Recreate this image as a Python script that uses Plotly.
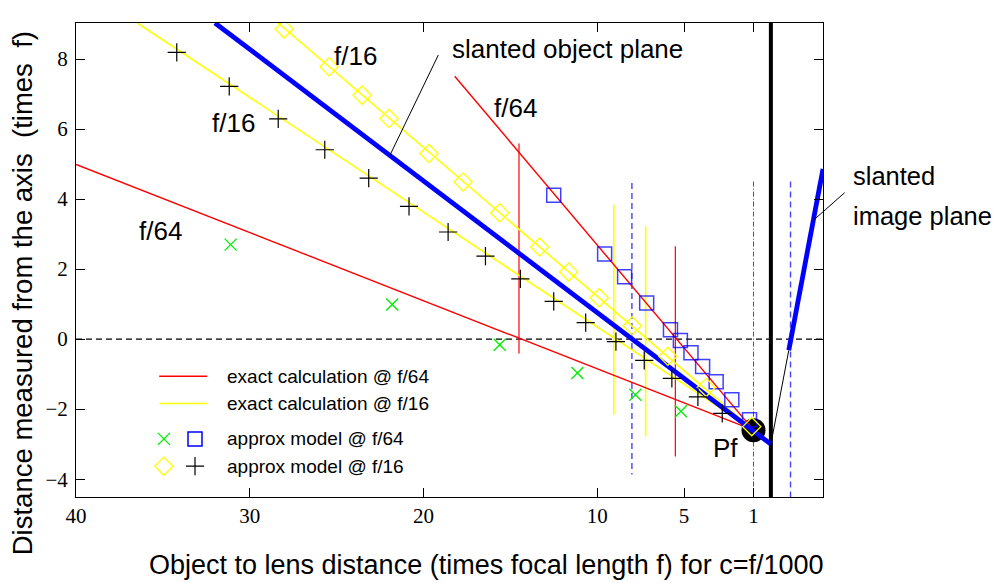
import plotly.graph_objects as go

# ---------------- data ----------------
x_ticks = [40, 30, 20, 10, 5, 1]
y_ticks = [-4, -2, 0, 2, 4, 6, 8]
x_range = [40, -3]
y_range = [-4.51, 9.03]

# exact calculation lines (converge at Pf)
exact_f64_far_x = [40, 1]
exact_f64_far_y = [4.99, -2.6]
exact_f64_near_x = [18.2, 1]
exact_f64_near_y = [7.51, -2.6]
exact_f16_far_x = [36.47, 1]
exact_f16_far_y = [9.03, -2.6]
exact_f16_near_x = [28.36, 1]
exact_f16_near_y = [9.03, -2.6]

# slanted planes
object_plane_x = [32.0, 0]
object_plane_y = [9.03, -3.0]
image_plane_x = [-1.03, -3.0]
image_plane_y = [-0.32, 4.86]
image_ext_x = [0, -1.03]
image_ext_y = [-3.0, -0.32]

pf_x = [1]
pf_y = [-2.6]

# approx model points
f64_x_x = [31.1, 21.8, 15.61, 11.14, 7.8, 5.18]
f64_x_y = [2.7, 0.99, -0.16, -0.97, -1.59, -2.06]
f64_sq_x = [12.5, 9.57, 8.42, 7.15, 5.78, 5.21, 4.6, 3.93, 3.15, 2.25, 1.23]
f64_sq_y = [4.11, 2.43, 1.78, 1.03, 0.27, -0.04, -0.39, -0.78, -1.22, -1.73, -2.3]
f16_dia_x = [28.02, 25.43, 23.53, 21.98, 19.68, 17.72, 15.61, 13.31, 11.64, 9.88, 7.98, 5.93, 3.72, 1.1]
f16_dia_y = [8.86, 7.78, 6.97, 6.3, 5.3, 4.49, 3.61, 2.63, 1.92, 1.18, 0.38, -0.49, -1.38, -2.5]
f16_plus_x = [34.2, 31.18, 28.36, 25.68, 23.15, 20.83, 18.58, 16.43, 14.42, 12.5, 10.66, 8.92, 7.29, 5.7, 4.2, 2.8]
f16_plus_y = [8.19, 7.22, 6.29, 5.41, 4.6, 3.79, 3.06, 2.37, 1.72, 1.08, 0.47, -0.07, -0.61, -1.12, -1.65, -2.12]

# vertical range markers
range_f64_x = [14.5, 5.5]
range_f64_top = [5.59, 2.65]
range_f64_bot = [-0.41, -3.35]
range_f16_x = [9.04, 7.21]
range_f16_top = [3.84, 3.22]
range_f16_bot = [-2.16, -2.78]
blue_dash_x = [8.0, -1.13]
blue_dash_top = [4.46, 4.5]
blue_dash_bot = [-3.87, -4.51]
focal_x = [1]
focal_top = [4.5]
focal_bot = [-4.51]
lens_x = [0]

# custom legend
legend_labels = ["exact calculation @ f/64", "exact calculation @ f/16",
                 "approx model @ f/64", "approx model @ f/16"]
legend_rows_y = [-1.06, -1.84, -2.85, -3.63]
legend_line_x = [35.21, 32.45]
legend_sym1_x = 34.94
legend_sym2_x = 33.15
legend_text_x = 31.43


def segs(xs, tops, bots):
    X, Y = [], []
    for x, t, b in zip(xs, tops, bots):
        X += [x, x, None]
        Y += [t, b, None]
    return X, Y


fig = go.Figure()


def line(x, y, color, width, dash="solid"):
    fig.add_trace(go.Scatter(x=x, y=y, mode="lines", showlegend=False, hoverinfo="skip",
                             line=dict(color=color, width=width, dash=dash)))


def pts(x, y, symbol, color, size, lw):
    fig.add_trace(go.Scatter(x=x, y=y, mode="markers", showlegend=False, hoverinfo="skip",
                             marker=dict(symbol=symbol, color=color, size=size,
                                         line=dict(color=color, width=lw))))


# zero line
line(x_range, [0, 0], "black", 1.3, "6px,4px")
# vertical ranges
X, Y = segs(range_f64_x, range_f64_top, range_f64_bot)
line(X, Y, "#ff0000", 1.2)
X, Y = segs(range_f16_x, range_f16_top, range_f16_bot)
line(X, Y, "#ffff00", 1.6)
X, Y = segs(blue_dash_x, blue_dash_top, blue_dash_bot)
line(X, Y, "rgb(70,70,255)", 1.4, "6px,4px")
X, Y = segs(focal_x, focal_top, focal_bot)
line(X, Y, "#555555", 1.0, "5px,2px,1px,2px")
X, Y = segs(lens_x, [y_range[1]], [y_range[0]])
line(X, Y, "black", 4)

# Pf
pts(pf_x, pf_y, "circle", "black", 24, 0)

# exact calculation
line(exact_f64_far_x, exact_f64_far_y, "#ff0000", 1.4)
line(exact_f64_near_x, exact_f64_near_y, "#ff0000", 1.4)
line(exact_f16_far_x, exact_f16_far_y, "#ffff00", 1.6)
line(exact_f16_near_x, exact_f16_near_y, "#ffff00", 1.6)

# planes
line(object_plane_x, object_plane_y, "#0000ff", 4.8)
line(image_plane_x, image_plane_y, "#0000ff", 4.8)
line(image_ext_x, image_ext_y, "black", 1)

# approx model points
SZ_X, SZ_SQ, SZ_DIA, SZ_PLUS = 12, 14, 14, 13
pts(f64_x_x, f64_x_y, "x-thin-open", "#00ee00", SZ_X, 1.3)
pts(f64_sq_x, f64_sq_y, "square-open", "rgba(0,0,255,0.75)", SZ_SQ, 1.5)
pts(f16_dia_x, f16_dia_y, "diamond-open", "#ffff00", SZ_DIA, 1.3)
pts(f16_plus_x, f16_plus_y, "cross-thin-open", "black", SZ_PLUS, 1.2)

# legend samples
line(legend_line_x, [legend_rows_y[0]] * 2, "#ff0000", 1.4)
line(legend_line_x, [legend_rows_y[1]] * 2, "#ffff00", 1.6)
pts([legend_sym1_x], [legend_rows_y[2]], "x-thin-open", "#00ee00", SZ_X, 1.3)
pts([legend_sym2_x], [legend_rows_y[2]], "square-open", "#0000ff", SZ_SQ, 1.5)
pts([legend_sym1_x], [legend_rows_y[3]], "diamond-open", "#ffff00", SZ_DIA, 1.3)
pts([legend_sym2_x], [legend_rows_y[3]], "cross-thin-open", "black", SZ_PLUS, 1.2)

SANS = "Liberation Sans, Arial, sans-serif"
SERIF = "Liberation Serif, Times New Roman, serif"
NB = "\u00a0"

ann = []
for lab, yy in zip(legend_labels, legend_rows_y):
    ann.append(dict(x=legend_text_x, y=yy, text=lab, showarrow=False, xanchor="left",
                    yanchor="middle", font=dict(family=SANS, size=19, color="black")))

labels = [
    (23.89, 8.08, "f/16", "center"),
    (30.91, 6.18, "f/16", "center"),
    (35.12, 3.10, "f/64", "center"),
    (14.69, 6.61, "f/64", "center"),
    (2.64, -3.11, "Pf", "center"),
    (18.45, 8.29, "slanted" + NB + "object plane", "left"),
]
for x, y, t, xa in labels:
    ann.append(dict(x=x, y=y, text=t, showarrow=False, xanchor=xa, yanchor="middle",
                    font=dict(family=SANS, size=26, color="black")))

# labels outside the plotting area (paper coordinates)
for px, py, t in [(1.037, 0.678, "slanted"), (1.037, 0.5935, "image plane")]:
    ann.append(dict(xref="paper", yref="paper", x=px, y=py, text=t, showarrow=False,
                    xanchor="left", yanchor="middle",
                    font=dict(family=SANS, size=25.5, color="black")))

# leader lines
for (x0, y0, x1, y1) in [(21.94, 5.24, 19.1, 8.16), (-2.46, 3.4, -4.33, 4.22)]:
    ann.append(dict(x=x0, y=y0, ax=x1, ay=y1, axref="x", ayref="y", xref="x", yref="y",
                    text="", showarrow=True, arrowhead=0, arrowwidth=1, arrowcolor="black",
                    standoff=0, startstandoff=0))

# axis titles
ann.append(dict(xref="paper", yref="paper", x=0.549, y=-0.143,
                text="Object to lens distance (times focal length f) for c=f/1000",
                showarrow=False, xanchor="center", yanchor="middle",
                font=dict(family=SANS, size=27, color="black")))
ann.append(dict(xref="paper", yref="paper", x=-0.0722, y=0.43,
                text="Distance measured from the axis" + NB + " (times" + NB + " f)",
                showarrow=False, xanchor="center", yanchor="middle", textangle=-90,
                font=dict(family=SANS, size=27.5, color="black")))

axis_common = dict(showgrid=False, zeroline=False, showline=True, linecolor="black", linewidth=1,
                   mirror="ticks", ticks="inside", ticklen=9, tickcolor="black", tickwidth=1,
                   tickfont=dict(family=SERIF, size=21, color="black"))

# the page body adds an 8px offset, so the figure is 8px smaller
fig.update_layout(
    width=996, height=575,
    margin=dict(l=68, r=180.5, t=15.3, b=85.7, autoexpand=False),
    paper_bgcolor="white", plot_bgcolor="white",
    xaxis=dict(range=x_range, tickvals=x_ticks, ticktext=[str(v) for v in x_ticks], **axis_common),
    yaxis=dict(range=y_range, tickvals=y_ticks, ticklabelstandoff=3, **axis_common),
    annotations=ann,
    showlegend=False,
)

fig.write_html("out.html")
